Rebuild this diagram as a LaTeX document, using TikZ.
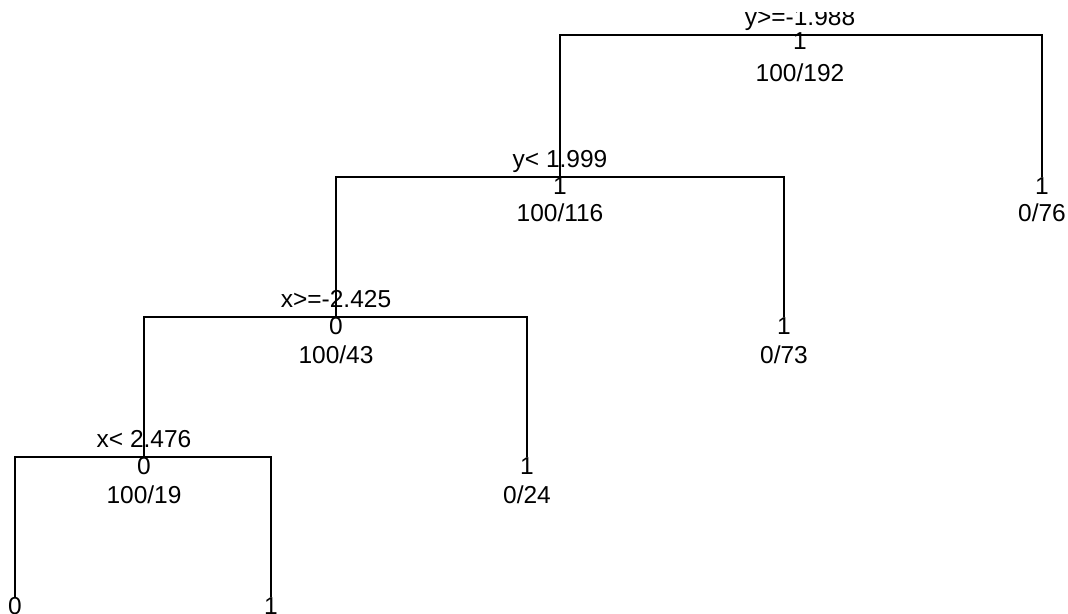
\documentclass[tikz,border=0pt]{standalone}
\usepackage{fontspec}
\setmainfont{Liberation Sans}
\begin{document}
\begin{tikzpicture}[x=1pt,y=-1pt,
    branch/.style={line width=1.8pt},
    splitlabel/.style={anchor=base,inner sep=0pt},
    classlabel/.style={anchor=north,inner sep=0pt},
    countlabel/.style={inner sep=0pt},
    every node/.style={font=\fontsize{24.5}{29}\selectfont}]
    \useasboundingbox (0,0) rectangle (1068,613);
    \clip (0,12) rectangle (1068,613);

    % Tree nodes
    \coordinate (root) at (800,35);
    \coordinate (ysplit) at (560,177);
    \coordinate (xsplit) at (336,317);
    \coordinate (xinner) at (144,457);
    \coordinate (leafA) at (1042,177);
    \coordinate (leafB) at (784,317);
    \coordinate (leafC) at (527,457);
    \coordinate (leafD) at (15,597);
    \coordinate (leafE) at (271,597);

    % Branches
    \draw[branch] (ysplit) |- (root) -| (leafA);
    \draw[branch] (xsplit) |- (ysplit) -| (leafB);
    \draw[branch] (xinner) |- (xsplit) -| (leafC);
    \draw[branch] (leafD) |- (xinner) -| (leafE);

    % Split rules
    \node[splitlabel] (rootrule) at ([yshift=10pt]root) {y>=-1.988};
    \node[splitlabel] (ysplitrule) at ([yshift=10pt]ysplit) {y< 1.999};
    \node[splitlabel] (xsplitrule) at ([yshift=10pt]xsplit) {x>=-2.425};
    \node[splitlabel] (xinnerrule) at ([yshift=10pt]xinner) {x< 2.476};

    % Classes
    \node[classlabel] (rootclass) at ([yshift=3pt]root) {1};
    \node[classlabel] (ysplitclass) at (ysplit) {1};
    \node[classlabel] (xsplitclass) at (xsplit) {0};
    \node[classlabel] (xinnerclass) at (xinner) {0};
    \node[classlabel] (leafAclass) at (leafA) {1};
    \node[classlabel] (leafBclass) at (leafB) {1};
    \node[classlabel] (leafCclass) at (leafC) {1};
    \node[classlabel] (leafDclass) at (leafD) {0};
    \node[classlabel] (leafEclass) at (leafE) {1};

    % Counts
    \node[countlabel] (rootcount) at ([yshift=-38pt]root) {100/192};
    \node[countlabel] (ysplitcount) at ([yshift=-36pt]ysplit) {100/116};
    \node[countlabel] (xsplitcount) at ([yshift=-38pt]xsplit) {100/43};
    \node[countlabel] (xinnercount) at ([yshift=-38pt]xinner) {100/19};
    \node[countlabel] (leafAcount) at ([yshift=-36pt]leafA) {0/76};
    \node[countlabel] (leafBcount) at ([yshift=-38pt]leafB) {0/73};
    \node[countlabel] (leafCcount) at ([yshift=-38pt]leafC) {0/24};
\end{tikzpicture}
\end{document}
